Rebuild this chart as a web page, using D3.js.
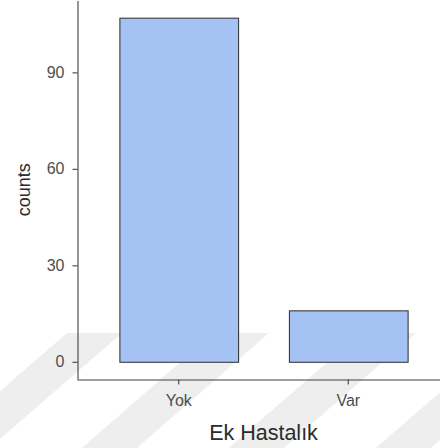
<!DOCTYPE html>
<html>
<head>
<meta charset="utf-8">
<script src="https://cdn.jsdelivr.net/npm/d3@7"></script>
<style>
  html, body { margin: 0; padding: 0; background: #fff; }
  svg { display: block; font-family: "Liberation Sans", Arial, Helvetica, sans-serif; }
</style>
</head>
<body>
<svg id="chart" width="440" height="448"></svg>
<script>
// Counts of patients by comorbidity status
const categories = ["Yok", "Var"];
const counts = [107, 16];
const yTicks = [0, 30, 60, 90];
const xTitle = "Ek Hastalık";
const yTitle = "counts";

const W = 440, H = 448;
const svg = d3.select("#chart");

// faint diagonal background bands
const bandStarts = [-80, 67, 214, 361, 508];
svg.append("g").selectAll("path").data(bandStarts).join("path")
  .attr("d", x0 => {
    const y0 = 333, drop = H - y0, w = 55, slope = 1.15;
    const dx = drop * slope;
    return `M${x0},${y0}L${x0 + w},${y0}L${x0 + w - dx},${H}L${x0 - dx},${H}Z`;
  })
  .attr("fill", "#eeeeee");

const plotLeft = 77, plotBottom = 379, plotTop = 0.5, plotRight = 450;

const x = d3.scaleBand().domain(categories).range([plotLeft, plotRight])
  .paddingInner(0.3).paddingOuter(0.25);
const y = d3.scaleLinear().domain([-5.35, 112.35]).range([plotBottom, plotTop]);

// bars
svg.append("g").selectAll("rect").data(categories).join("rect")
  .attr("x", d => x(d) + 0.5)
  .attr("y", (d, i) => y(counts[i]) + 0.5)
  .attr("width", x.bandwidth())
  .attr("height", (d, i) => y(0) - y(counts[i]))
  .attr("fill", "#a4c2f4")
  .attr("stroke", "#3a3a3a")
  .attr("stroke-width", 1.1);

// y axis
const gy = svg.append("g")
  .attr("transform", `translate(${plotLeft + 0.5},0)`)
  .call(d3.axisLeft(y).tickValues(yTicks).tickSize(5).tickSizeOuter(0).tickPadding(8));
gy.select(".domain").attr("stroke", "#404040").attr("stroke-width", 1.1);
gy.selectAll(".tick line").attr("stroke", "#404040").attr("stroke-width", 1.1);
gy.selectAll(".tick text").attr("fill", "#4d4d4d").attr("font-size", 16)
  .attr("font-family", "Liberation Sans, Arial, sans-serif");

// x axis
const gx = svg.append("g")
  .attr("transform", `translate(0,${plotBottom + 0.5})`)
  .call(d3.axisBottom(x).tickSize(5).tickSizeOuter(0).tickPadding(10));
gx.select(".domain").attr("stroke", "#404040").attr("stroke-width", 1.1);
gx.selectAll(".tick line").attr("stroke", "#404040").attr("stroke-width", 1.1);
gx.selectAll(".tick text").attr("fill", "#4d4d4d").attr("font-size", 16)
  .attr("font-family", "Liberation Sans, Arial, sans-serif");

// axis titles
svg.append("text")
  .attr("x", (plotLeft + plotRight) / 2).attr("y", 440)
  .attr("text-anchor", "middle")
  .attr("font-size", 21.5).attr("fill", "#2b2b2b")
  .text(xTitle);

svg.append("text")
  .attr("transform", `translate(30,${(plotBottom + plotTop) / 2}) rotate(-90)`)
  .attr("text-anchor", "middle")
  .attr("font-size", 18).attr("fill", "#2b2b2b")
  .text(yTitle);
</script>
</body>
</html>
